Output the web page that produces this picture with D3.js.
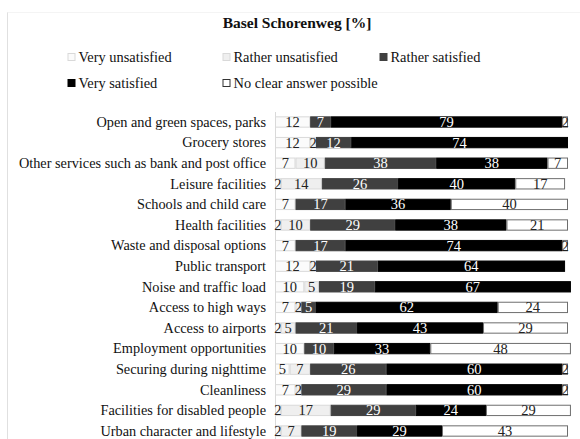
<!DOCTYPE html>
<html><head><meta charset="utf-8">
<script src="https://cdn.jsdelivr.net/npm/d3@7/dist/d3.min.js"></script>
<style>body{margin:0;background:#fff}svg{display:block}</style>
</head><body>
<svg id="c" width="580" height="439"></svg>
<script>
const categories = ["Open and green spaces, parks","Grocery stores","Other services such as bank and post office","Leisure facilities","Schools and child care","Health facilities","Waste and disposal options","Public transport","Noise and traffic load","Access to high ways","Access to airports","Employment opportunities","Securing during nighttime","Cleanliness","Facilities for disabled people","Urban character and lifestyle"];
const seriesNames = ["Very unsatisfied","Rather unsatisfied","Rather satisfied","Very satisfied","No clear answer possible"];
const veryUnsatisfied   = [12,12,7,2,7,2,7,12,10,7,2,10,5,7,2,2];
const ratherUnsatisfied = [0,2,10,14,0,10,0,2,5,2,5,0,7,2,17,7];
const ratherSatisfied   = [7,12,38,26,17,29,17,21,19,5,21,10,26,29,29,19];
const verySatisfied     = [79,74,38,40,36,38,74,64,67,62,43,33,60,60,24,29];
const noClearAnswer     = [2,0,7,17,40,21,2,0,0,24,29,48,2,2,29,43];
const title = "Basel Schorenweg [%]";

const series = [veryUnsatisfied, ratherUnsatisfied, ratherSatisfied, verySatisfied, noClearAnswer];
const fills = ["#fbfbfb","#efefef","#404040","#000000","#ffffff"];
const strokes = ["#d9d9d9","#d9d9d9","#404040","#000000","#6e6e6e"];
const textCol = ["#222","#222","#fff","#fff","#222"];

const svg = d3.select("#c");
const font = "'Liberation Serif','Times New Roman',serif";

// frame lines
svg.append("line").attr("x1",7.5).attr("x2",7.5).attr("y1",12).attr("y2",439).attr("stroke","#e0e0e0");
svg.append("line").attr("x1",7.5).attr("x2",580).attr("y1",12.5).attr("y2",12.5).attr("stroke","#f4f4f4");

svg.append("text").attr("x",297).attr("y",27.5).attr("text-anchor","middle")
  .attr("font-family",font).attr("font-weight","bold").attr("font-size",15.5).attr("fill","#111").text(title);

// legend
const legPos = [[71.5,57],[226.5,57],[383.5,57],[71.5,83],[226.5,83]];
seriesNames.forEach((n,i)=>{
  const g = svg.append("g").attr("transform",`translate(${legPos[i][0]},${legPos[i][1]})`);
  g.append("rect").attr("x",-3.5).attr("y",-3.5).attr("width",7).attr("height",7)
    .attr("fill",fills[i]).attr("stroke", i===4? "#333": strokes[i]);
  g.append("text").attr("x",7).attr("y",5).attr("font-family",font).attr("font-size",14.4).attr("fill","#111").text(n);
});

const x = d3.scaleLinear().domain([0,100]).range([275,568]);
const y = d3.scaleBand().domain(categories).range([111.7,441.3]).paddingInner(0.45).paddingOuter(0.225);

// axis line
svg.append("line").attr("x1",275.5).attr("x2",275.5).attr("y1",112).attr("y2",439).attr("stroke","#d9d9d9");

// category labels
svg.append("g").selectAll("text").data(categories).join("text")
  .attr("x",266).attr("y",d=>y(d)+y.bandwidth()/2+4.8).attr("text-anchor","end")
  .attr("font-family",font).attr("font-size",14.3).attr("fill","#111").text(d=>d);

categories.forEach((c,ci)=>{
  let cum = 0;
  series.forEach((s,si)=>{
    const v = s[ci];
    if(!v){return;}
    const x0 = x(cum), x1 = x(cum+v);
    cum += v;
    svg.append("rect").attr("x",x0+0.5).attr("y",y(c)+0.5).attr("width",Math.max(0,x1-x0-1)).attr("height",y.bandwidth()-1)
      .attr("fill",fills[si]).attr("stroke",strokes[si]).attr("stroke-width",1);
    svg.append("text").attr("x",(x0+x1)/2).attr("y",y(c)+y.bandwidth()/2+5)
      .attr("text-anchor","middle").attr("font-family",font).attr("font-size",14.5)
      .attr("fill",textCol[si]).text(v);
  });
});
</script>
</body></html>
